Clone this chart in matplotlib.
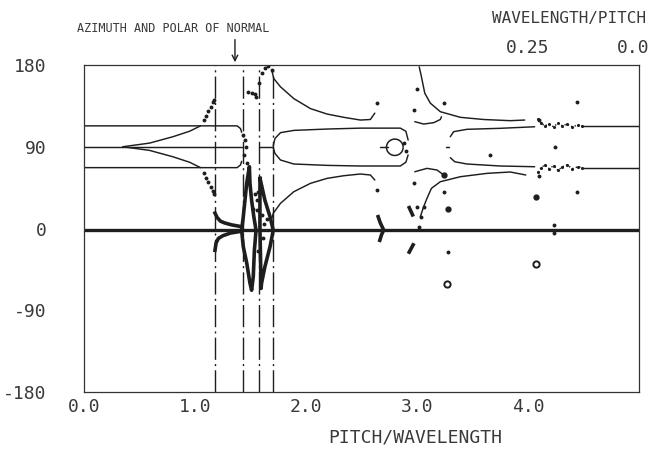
import numpy as np
import matplotlib
matplotlib.use("Agg")
import matplotlib.pyplot as plt
from matplotlib.patches import Arc

plt.rcParams['font.family'] = ['DejaVu Sans Mono', 'DejaVu Sans']
plt.rcParams['axes.unicode_minus'] = False

# ---- values (x = pitch/wavelength, y = degrees) ----
x_ticks = [0.0, 1.0, 2.0, 3.0, 4.0]
x_tick_labels = ['0.0', '1.0', '2.0', '3.0', '4.0']
y_ticks = [-180, -90, 0, 90, 180]
top_ticks = [4.0, 4.95]
top_tick_labels = ['0.25', '0.0']

normal_lines = [1.18, 1.43, 1.58, 1.705]   # dash-dot verticals
baseline_y = -2

# left bands
band_hi_x = [0.0, 1.38, 1.41, 1.42]
band_hi_y = [113, 113, 110, 106]
band_mid_x = [0.0, 1.42]
band_mid_y = [90, 90]
band_lo_x = [0.0, 1.38, 1.41, 1.42]
band_lo_y = [67, 67, 70, 74]
mid_seg_x = [1.58, 1.705]
mid_seg_y = [90, 90]

# branches leaving 90 on the left
div_up_x = [0.35, 0.59, 0.80, 0.95, 1.05]
div_up_y = [90, 94, 101, 107, 113]
div_up_dots_x = [1.08, 1.10, 1.12, 1.14, 1.16, 1.175]
div_up_dots_y = [119, 124, 129, 134, 139, 142]
div_lo_x = [0.35, 0.59, 0.80, 0.95, 1.05]
div_lo_y = [90, 86, 79, 73, 67]
div_lo_dots_x = [1.08, 1.10, 1.12, 1.14, 1.16, 1.175]
div_lo_dots_y = [61, 56, 51, 46, 41, 38]

# curves hugging zero between the first two verticals
hyp_a_x = [1.18, 1.20, 1.23, 1.27, 1.33, 1.42]
hyp_a_y = [17, 12, 8, 6, 4, 2]
hyp_b_x = [1.18, 1.19, 1.21, 1.25, 1.32, 1.42]
hyp_b_y = [-24, -16, -11, -8, -5, -3]

# scattered dots between verticals 2 and 3
gap_dots_x = [1.435, 1.45, 1.46, 1.44, 1.465, 1.48, 1.51, 1.54, 1.55]
gap_dots_y = [103, 97, 90, 81, 72, 150, 149, 148, 145]

# spike shapes
spike1_x = [1.42, 1.435, 1.45, 1.466, 1.49, 1.495, 1.51, 1.53, 1.55,
            1.535, 1.525, 1.51, 1.495, 1.466, 1.435, 1.42]
spike1_y = [-2, 13, 31, 50, 68, 50, 31, 13, -2, -24, -53, -68, -60, -38, -20, -2]
spike2_x = [1.586, 1.63, 1.676, 1.705, 1.676, 1.63, 1.60, 1.595, 1.59, 1.585, 1.585, 1.586]
spike2_y = [55, 31, 13, -2, -20, -42, -60, -66, -30, 0, 30, 55]
spike_dots_x = [1.555, 1.56, 1.57, 1.60, 1.62, 1.645, 1.61, 1.565, 1.54, 1.52]
spike_dots_y = [31, 20, 40, 15, 5, 10, -10, -25, 38, 22]

# middle group (between 1.7 and 2.9)
arch_dots_x = [1.58, 1.60, 1.63, 1.66, 1.69]
arch_dots_y = [160, 171, 177, 179, 175]
arch_x = [1.69, 1.71, 1.77, 1.89, 2.04, 2.19, 2.34, 2.49, 2.58, 2.62]
arch_y = [175, 165, 156, 143, 132, 126, 122.4, 119.4, 120, 127]
low_arch_x = [1.69, 1.705, 1.77, 1.89, 2.04, 2.19, 2.34, 2.49, 2.58, 2.62]
low_arch_y = [10, 16.7, 27.7, 40.5, 49.7, 55.2, 58.1, 60, 58.9, 53.4]
round_hi_x = [1.705, 1.72, 1.77, 1.89, 2.19, 2.49, 2.85, 2.90, 2.92]
round_hi_y = [91, 99, 105.5, 108, 109.5, 110.5, 110.5, 107, 97.4]
round_lo_x = [1.705, 1.72, 1.77, 1.89, 2.19, 2.49, 2.85, 2.90, 2.92]
round_lo_y = [89, 82.7, 75.4, 71, 69.5, 68.8, 68.8, 73, 81]
stub_x = [2.67, 2.74]
stub_y = [89.4, 89.4]
ring_center = (2.80, 89.4)
hook_x = [2.65, 2.67, 2.70, 2.68, 2.665]
hook_y = [13, 6, -1.7, -7, -13]

# right group (from 2.95 on)
r_arch_x = [3.02, 3.04, 3.07, 3.12, 3.21, 3.39, 3.60, 3.84, 3.97]
r_arch_y = [178, 167, 149, 138, 128.6, 122.4, 120, 118.7, 119.4]
r_small_hi_x = [2.98, 3.06, 3.15, 3.21, 3.22]
r_small_hi_y = [117.6, 115, 116.5, 120, 123]
r_small_lo_x = [2.98, 3.09, 3.18, 3.24]
r_small_lo_y = [62.5, 66.2, 64.4, 59]
r_low_arch_x = [3.03, 3.06, 3.09, 3.13, 3.21, 3.39, 3.63, 3.84, 3.98]
r_low_arch_y = [13, 24, 33.2, 44.2, 51.5, 57, 60.7, 62.2, 58.9]
r_round_hi_x = [3.30, 3.33, 3.45, 3.75, 4.06]
r_round_hi_y = [101, 106.6, 109.2, 110.3, 112]
r_round_lo_x = [3.30, 3.34, 3.45, 3.75, 4.06]
r_round_lo_y = [78, 73.5, 71, 68.8, 68]
wavy_x = [4.09, 4.12, 4.15, 4.19, 4.23, 4.27, 4.31, 4.35, 4.40, 4.45, 4.49]
wavy_hi_y = [121, 116, 113, 115, 112, 116, 113, 115, 112, 114, 113]
wavy_lo_y = [62, 67, 70, 66, 69, 64, 68, 70, 66, 68, 67]
tail_hi_x = [4.49, 5.0]
tail_hi_y = [112.8, 112.8]
tail_lo_x = [4.49, 5.0]
tail_lo_y = [66.5, 66.5]

dots_x = [2.64, 2.64, 2.97, 3.00, 3.24, 2.97, 3.24, 3.00, 3.06, 3.04, 3.02,
          3.66, 4.44, 4.44, 4.24, 4.10, 4.10, 4.23, 4.23, 3.28, 2.88, 2.90]
dots_y = [138, 42, 130, 154, 138, 50, 40.5, 24, 24, 13, 2,
          81, 139.6, 40.5, 89.4, 57.7, 120, 3.8, -5, -25.6, 94, 85]
big_dots_x = [3.24, 3.28, 4.07]
big_dots_y = [59, 22, 35]
rings_x = [3.27, 4.07]
rings_y = [-61, -39]
dash1_x = [2.93, 2.96]
dash1_y = [23, 15]
dash2_x = [2.93, 2.965]
dash2_y = [-26, -18]
dash3_x = [3.26, 3.29]
dash3_y = [89.4, 89.4]

INK = '#1e1e1e'
TXT = '#3a3a3a'

fig = plt.figure(figsize=(6.54, 4.53), dpi=100)
ax = fig.add_axes([84 / 654, 1 - 392 / 453, (639 - 84) / 654, (392 - 65) / 453])
ax.set_xlim(0, 5)
ax.set_ylim(-180, 180)

for xv in normal_lines:
    ax.axvline(xv, color=INK, lw=1.0, ls=(0, (16, 3, 1.5, 3)))

ax.plot([0, 5], [baseline_y, baseline_y], color=INK, lw=2.4)

line_kw = dict(color=INK, lw=1.05, solid_capstyle='round')
thick_kw = dict(color=INK, lw=2.6, solid_joinstyle='round')
for xs, ys in [(band_hi_x, band_hi_y), (band_mid_x, band_mid_y), (band_lo_x, band_lo_y),
               (mid_seg_x, mid_seg_y), (div_up_x, div_up_y), (div_lo_x, div_lo_y),
               (arch_x, arch_y), (low_arch_x, low_arch_y),
               (round_hi_x, round_hi_y), (round_lo_x, round_lo_y), (stub_x, stub_y),
               (r_arch_x, r_arch_y), (r_small_hi_x, r_small_hi_y), (r_small_lo_x, r_small_lo_y),
               (r_low_arch_x, r_low_arch_y), (r_round_hi_x, r_round_hi_y),
               (r_round_lo_x, r_round_lo_y), (tail_hi_x, tail_hi_y), (tail_lo_x, tail_lo_y),
               (dash3_x, dash3_y)]:
    ax.plot(xs, ys, **line_kw)

for xs, ys in [(hyp_a_x, hyp_a_y), (hyp_b_x, hyp_b_y), (spike1_x, spike1_y),
               (spike2_x, spike2_y), (hook_x, hook_y), (dash1_x, dash1_y), (dash2_x, dash2_y)]:
    ax.plot(xs, ys, **thick_kw)

dot_kw = dict(ls='none', marker='o', ms=1.8, color=INK)
for xs, ys in [(div_up_dots_x, div_up_dots_y), (div_lo_dots_x, div_lo_dots_y),
               (gap_dots_x, gap_dots_y), (spike_dots_x, spike_dots_y),
               (arch_dots_x, arch_dots_y), (dots_x, dots_y)]:
    ax.plot(xs, ys, **dot_kw)
ax.plot(wavy_x, wavy_hi_y, ls=':', marker='.', ms=2.5, lw=1, color=INK)
ax.plot(wavy_x, wavy_lo_y, ls=':', marker='.', ms=2.5, lw=1, color=INK)
ax.plot(big_dots_x, big_dots_y, ls='none', marker='o', ms=3.5, color=INK)
ax.plot(rings_x, rings_y, ls='none', marker='o', ms=4.5, mfc='white', mec=INK, mew=1.4)
ax.add_patch(Arc(ring_center, 0.15, 18, theta1=40, theta2=320, color=INK, lw=1.1))

for sp in ax.spines.values():
    sp.set_linewidth(0.9)
    sp.set_color('#333333')

ax.set_xticks(x_ticks)
ax.set_xticklabels(x_tick_labels)
ax.set_yticks(y_ticks)
ax.tick_params(axis='both', length=0, labelsize=13, labelcolor=TXT)
ax.tick_params(axis='y', pad=27)
ax.tick_params(axis='x', pad=4)

top = ax.twiny()
top.set_xlim(ax.get_xlim())
top.set_xticks(top_ticks)
top.set_xticklabels(top_tick_labels)
top.tick_params(axis='x', length=0, labelsize=13, labelcolor=TXT, pad=6)
for sp in top.spines.values():
    sp.set_visible(False)

fig.text(415 / 654, 1 - 437 / 453, 'PITCH/WAVELENGTH', ha='center', va='center',
         fontsize=13, color=TXT)
fig.text(646 / 654, 1 - 18 / 453, 'WAVELENGTH/PITCH', ha='right', va='center',
         fontsize=11.5, color=TXT)
fig.text(173 / 654, 1 - 28 / 453, 'AZIMUTH AND POLAR OF NORMAL', ha='center', va='center',
         fontsize=8.5, color=TXT)
ax.annotate('', xy=(1.36, 180), xytext=(1.36, 211), xycoords='data', textcoords='data',
            arrowprops=dict(arrowstyle='->', lw=1.0, color=INK), annotation_clip=False)

fig.savefig('out.png', dpi=100)
